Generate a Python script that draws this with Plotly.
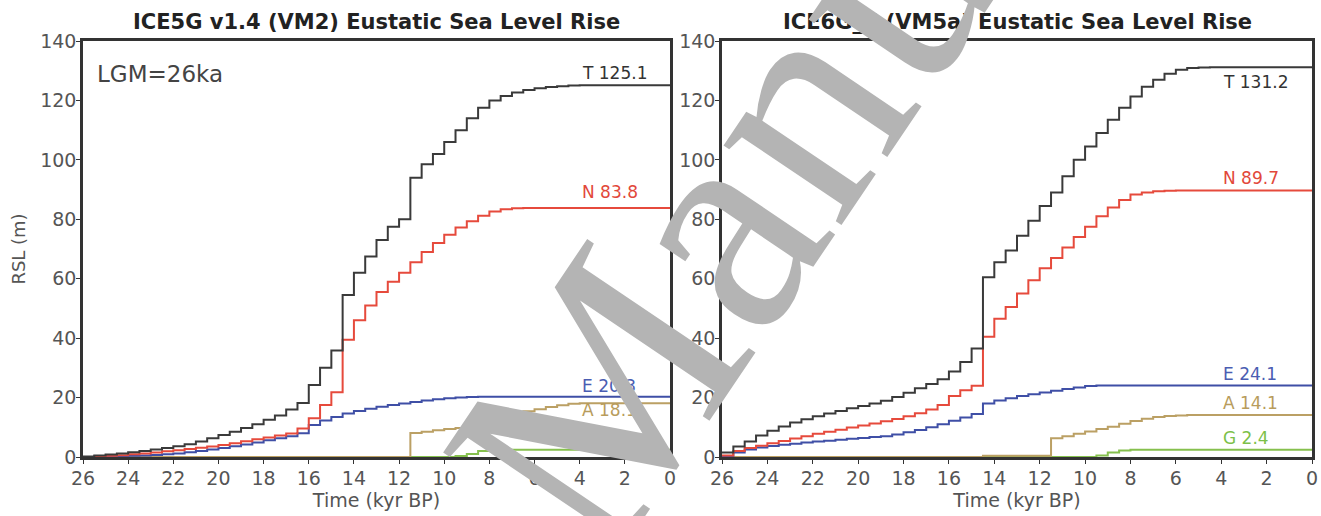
import plotly.graph_objects as go

# Time axis, thousands of years before present (0.5 kyr steps)
time_kyr = [26.0, 25.5, 25.0, 24.5, 24.0, 23.5, 23.0, 22.5, 22.0, 21.5, 21.0,
            20.5, 20.0, 19.5, 19.0, 18.5, 18.0, 17.5, 17.0, 16.5, 16.0, 15.5,
            15.0, 14.5, 14.0, 13.5, 13.0, 12.5, 12.0, 11.5, 11.0, 10.5, 10.0,
            9.5, 9.0, 8.5, 8.0, 7.5, 7.0, 6.5, 6.0, 5.5, 5.0, 4.5, 4.0, 3.5,
            3.0, 2.5, 2.0, 1.5, 1.0, 0.5, 0.0]

# ICE5G v1.4 (VM2) eustatic contributions (m)
ice5g_T = [0.2, 0.5, 0.8, 1.2, 1.6, 2.0, 2.5, 3.0, 3.6, 4.3, 5.2, 6.3, 7.4, 8.5,
           9.8, 11.0, 12.5, 14.0, 16.0, 18.2, 24.2, 30.0, 35.8, 54.5, 62.0, 67.5,
           73.0, 77.5, 80.0, 94.0, 98.5, 102.0, 106.0, 110.0, 114.0, 117.5, 120.0,
           121.5, 122.7, 123.5, 124.1, 124.5, 124.8, 125.0, 125.1, 125.1, 125.1,
           125.1, 125.1, 125.1, 125.1, 125.1, 125.1]
ice5g_N = [0.0, 0.2, 0.4, 0.6, 0.9, 1.2, 1.5, 1.9, 2.3, 2.7, 3.1, 3.5, 4.0, 4.6,
           5.3, 6.0, 6.6, 7.2, 7.9, 9.6, 13.0, 17.5, 21.8, 39.5, 46.0, 51.0, 55.5,
           59.0, 62.0, 65.5, 69.0, 72.0, 74.8, 77.2, 79.3, 81.2, 82.6, 83.4, 83.7,
           83.8, 83.8, 83.8, 83.8, 83.8, 83.8, 83.8, 83.8, 83.8, 83.8, 83.8, 83.8,
           83.8, 83.8]
ice5g_E = [0.0, 0.1, 0.2, 0.3, 0.4, 0.5, 0.7, 0.9, 1.2, 1.6, 2.0, 2.5, 3.0, 3.6,
           4.2, 4.9, 5.6, 6.3, 7.0, 8.0, 10.8, 12.3, 13.5, 14.6, 15.5, 16.2, 16.9,
           17.5, 18.0, 18.5, 19.0, 19.4, 19.8, 20.0, 20.2, 20.3, 20.3, 20.3, 20.3,
           20.3, 20.3, 20.3, 20.3, 20.3, 20.3, 20.3, 20.3, 20.3, 20.3, 20.3, 20.3,
           20.3, 20.3]
ice5g_A = [0.0, 0.0, 0.0, 0.0, 0.0, 0.0, 0.0, 0.0, 0.0, 0.0, 0.0, 0.0, 0.0, 0.0,
           0.0, 0.0, 0.0, 0.0, 0.0, 0.0, 0.0, 0.0, 0.0, 0.0, 0.0, 0.0, 0.0, 0.0,
           0.0, 8.1, 8.5, 9.0, 9.4, 9.8, 10.2, 12.3, 13.0, 13.8, 14.6, 15.4, 16.1,
           16.8, 17.4, 17.9, 18.1, 18.1, 18.1, 18.1, 18.1, 18.1, 18.1, 18.1, 18.1]
ice5g_G = [0.0, 0.0, 0.0, 0.0, 0.0, 0.0, 0.0, 0.0, 0.0, 0.0, 0.0, 0.0, 0.0, 0.0,
           0.0, 0.0, 0.0, 0.0, 0.0, 0.0, 0.0, 0.0, 0.0, 0.0, 0.0, 0.0, 0.0, 0.0,
           0.0, 0.0, 0.0, 0.0, 0.0, 0.3, 1.0, 2.0, 2.3, 2.4, 2.4, 2.4, 2.4, 2.4,
           2.4, 2.4, 2.4, 2.4, 2.4, 2.4, 2.4, 2.4, 2.4, 2.4, 2.4]

# ICE6G_C (VM5a) eustatic contributions (m)
ice6g_T = [1.5, 3.5, 5.2, 7.2, 8.8, 10.3, 11.6, 12.7, 13.7, 14.6, 15.5, 16.4,
           17.2, 18.0, 18.9, 20.2, 21.6, 23.1, 24.6, 26.2, 28.8, 32.0, 36.5, 60.5,
           65.5, 69.5, 74.5, 79.5, 84.5, 89.0, 94.5, 100.0, 104.5, 109.0, 113.5,
           117.5, 121.3, 124.6, 127.0, 129.0, 130.3, 130.9, 131.1, 131.2, 131.2,
           131.2, 131.2, 131.2, 131.2, 131.2, 131.2, 131.2, 131.2]
ice6g_N = [0.5, 2.0, 3.0, 3.8, 4.6, 5.4, 6.2, 7.0, 7.8, 8.5, 9.2, 9.9, 10.6, 11.3,
           12.0, 12.8, 13.7, 14.7, 16.0, 17.5, 20.5, 22.5, 24.0, 40.5, 46.5, 50.5,
           55.0, 59.5, 63.5, 67.0, 70.5, 74.0, 77.5, 81.0, 84.0, 86.5, 88.3, 89.0,
           89.4, 89.6, 89.7, 89.7, 89.7, 89.7, 89.7, 89.7, 89.7, 89.7, 89.7, 89.7,
           89.7, 89.7, 89.7]
ice6g_E = [0.3, 1.5, 2.5, 3.2, 3.7, 4.1, 4.5, 4.9, 5.2, 5.5, 5.8, 6.1, 6.4, 6.7,
           7.0, 7.6, 8.3, 9.1, 10.0, 11.0, 12.2, 13.3, 14.5, 18.0, 19.0, 19.8, 20.5,
           21.1, 21.7, 22.3, 22.9, 23.4, 23.9, 24.1, 24.1, 24.1, 24.1, 24.1, 24.1,
           24.1, 24.1, 24.1, 24.1, 24.1, 24.1, 24.1, 24.1, 24.1, 24.1, 24.1, 24.1,
           24.1, 24.1]
ice6g_A = [0.0, 0.0, 0.0, 0.0, 0.0, 0.0, 0.0, 0.0, 0.0, 0.0, 0.0, 0.0, 0.0, 0.0,
           0.0, 0.0, 0.0, 0.0, 0.0, 0.0, 0.0, 0.0, 0.0, 0.4, 0.4, 0.4, 0.4, 0.4,
           0.4, 6.3, 7.0, 7.8, 8.6, 9.4, 10.2, 11.2, 12.1, 12.9, 13.5, 13.8, 14.0,
           14.1, 14.1, 14.1, 14.1, 14.1, 14.1, 14.1, 14.1, 14.1, 14.1, 14.1, 14.1]
ice6g_G = [0.0, 0.0, 0.0, 0.0, 0.0, 0.0, 0.0, 0.0, 0.0, 0.0, 0.0, 0.0, 0.0, 0.0,
           0.0, 0.0, 0.0, 0.0, 0.0, 0.0, 0.0, 0.0, 0.0, 0.0, 0.0, 0.0, 0.0, 0.0,
           0.0, 0.0, 0.0, 0.0, 0.0, 0.5, 1.5, 2.2, 2.4, 2.4, 2.4, 2.4, 2.4, 2.4,
           2.4, 2.4, 2.4, 2.4, 2.4, 2.4, 2.4, 2.4, 2.4, 2.4, 2.4]

panel_titles = ["ICE5G v1.4 (VM2) Eustatic Sea Level Rise",
                "ICE6G_C (VM5a) Eustatic Sea Level Rise"]
component_keys = ["T", "N", "E", "A", "G"]
x_ticks = [26, 24, 22, 20, 18, 16, 14, 12, 10, 8, 6, 4, 2, 0]
y_ticks = [0, 20, 40, 60, 80, 100, 120, 140]

line_colors = {"T": "#3a3a3a", "N": "#e64a3c", "E": "#3f4fa6",
               "A": "#bba064", "G": "#86c04e"}
text_colors = {"T": "#333333", "N": "#e2483a", "E": "#4a5db2",
               "A": "#b89c5c", "G": "#7cc048"}
# vertical pixel offsets of the end-value labels
label_shift = [{"T": 12, "N": 16, "E": 11, "A": -7, "G": 12},
               {"T": -15, "N": 12, "E": 11, "A": 12, "G": 12}]

panels = [
    {"T": ice5g_T, "N": ice5g_N, "E": ice5g_E, "A": ice5g_A, "G": ice5g_G},
    {"T": ice6g_T, "N": ice6g_N, "E": ice6g_E, "A": ice6g_A, "G": ice6g_G},
]

W, H = 1321, 516
x_domains = [[83 / W, 670 / W], [722 / W, 1312 / W]]
y_domain = [1 - 457 / H, 1 - 41 / H]

fig = go.Figure()
annotations = []

for i, series in enumerate(panels):
    xa = "x" if i == 0 else "x2"
    ya = "y" if i == 0 else "y2"
    # draw the small contributions first, total last
    for key in ["G", "A", "E", "N", "T"]:
        fig.add_trace(go.Scatter(
            x=time_kyr, y=series[key], mode="lines", line_shape="hv",
            line=dict(color=line_colors[key], width=2),
            xaxis=xa, yaxis=ya, showlegend=False, hoverinfo="skip"))
    for key in component_keys:
        final = series[key][-1]
        annotations.append(dict(
            x=4, y=final, xref=xa, yref=ya, xanchor="left", yanchor="middle",
            yshift=label_shift[i][key], showarrow=False,
            text=f"{key} {final:.1f}",
            font=dict(family="DejaVu Sans", size=17, color=text_colors[key])))
    annotations.append(dict(
        x=(x_domains[i][0] + x_domains[i][1]) / 2, y=1 - 22 / H,
        xref="paper", yref="paper", xanchor="center", yanchor="middle",
        showarrow=False, text=f"<b>{panel_titles[i]}</b>",
        font=dict(family="DejaVu Sans", size=21, color="#222222")))

annotations.append(dict(
    x=95 / W, y=1 - 74 / H, xref="paper", yref="paper", xanchor="left",
    yanchor="middle", showarrow=False, text="LGM=26ka",
    font=dict(family="DejaVu Sans", size=23, color="#444444")))

# diagonal manuscript watermark across the figure
annotations.append(dict(
    x=915 / W, y=1 + 70 / H, xref="paper", yref="paper", xanchor="center",
    yanchor="middle", showarrow=False, text="Manuscript", textangle=-56,
    font=dict(family="Liberation Serif", size=310, color="#b4b4b4")))

axis_common = dict(
    showline=True, mirror=True, linecolor="#333333", linewidth=2.5,
    showgrid=False, zeroline=False, ticks="outside", ticklen=4,
    tickcolor="#333333", tickfont=dict(family="DejaVu Sans", size=19, color="#555555"))

for i in range(2):
    sfx = "" if i == 0 else "2"
    fig.update_layout(**{
        f"xaxis{sfx}": dict(
            axis_common, domain=x_domains[i], range=[26, 0], tickvals=x_ticks,
            anchor="y" + sfx, ticklabelstandoff=-2,
            title=dict(text="Time (kyr BP)", standoff=0,
                       font=dict(family="DejaVu Sans", size=19, color="#555555"))),
        f"yaxis{sfx}": dict(
            axis_common, domain=y_domain, range=[0, 140], tickvals=y_ticks,
            anchor="x" + sfx, ticklabelstandoff=-4),
    })

fig.update_layout(
    yaxis_title=dict(text="RSL (m)", standoff=10,
                     font=dict(family="DejaVu Sans", size=18, color="#555555")),
    width=W, height=H,
    margin=dict(l=0, r=0, t=0, b=0, autoexpand=False),
    paper_bgcolor="white", plot_bgcolor="white",
    annotations=annotations)

fig.write_html("out.html")
